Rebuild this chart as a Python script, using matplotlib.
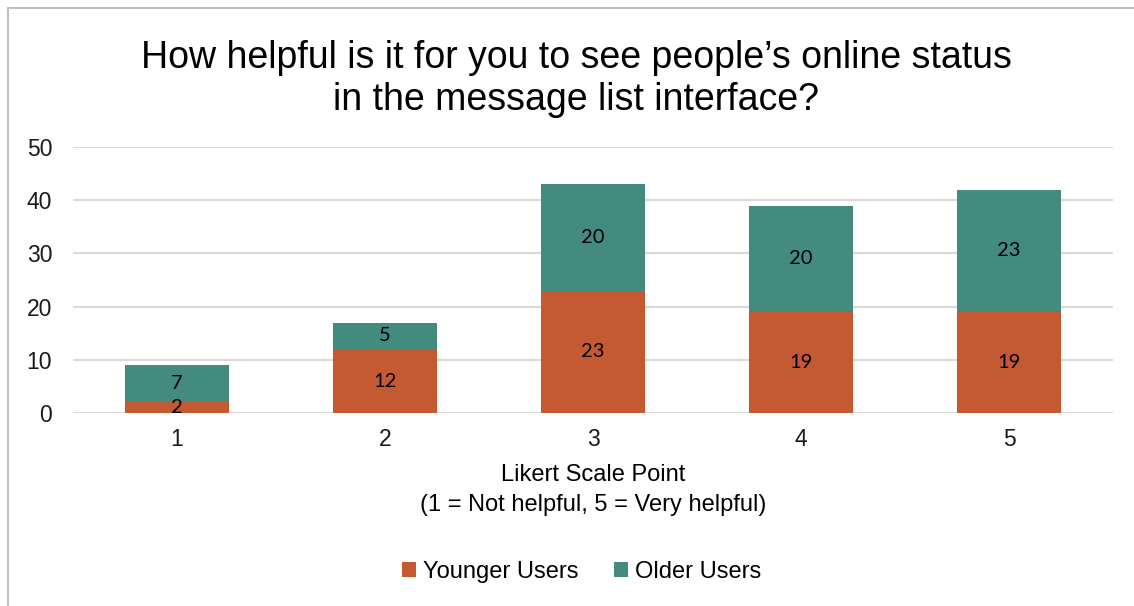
import numpy as np
import matplotlib
matplotlib.use("Agg")
import matplotlib.pyplot as plt
from matplotlib.lines import Line2D

plt.rcParams['font.family'] = ['Liberation Sans', 'DejaVu Sans']

# data
likert_points = ["1", "2", "3", "4", "5"]
younger_users = [2, 12, 23, 19, 19]
older_users = [7, 5, 20, 20, 23]

col_young = '#C55A32'
col_old = '#448B7F'
grid_col = '#D9D9D9'

fig = plt.figure(figsize=(11.34, 6.06), dpi=100)
ax = fig.add_axes([73 / 1134, 1 - 413 / 606, 1040 / 1134, 266 / 606])

x = np.arange(1, len(likert_points) + 1)
b1 = ax.bar(x, younger_users, width=0.5, color=col_young, label="Younger Users", zorder=3)
b2 = ax.bar(x, older_users, width=0.5, bottom=younger_users, color=col_old, label="Older Users", zorder=3)
ax.bar_label(b1, label_type='center', fontsize=14.5, color='black', family=['Lato', 'DejaVu Sans'])
ax.bar_label(b2, label_type='center', fontsize=14.5, color='black', family=['Lato', 'DejaVu Sans'])

ax.set_xlim(0.5, len(likert_points) + 0.5)
ax.set_ylim(0, 50)
ax.set_yticks(range(0, 51, 10))
ax.set_xticks(x)
ax.set_xticklabels(likert_points)
ax.tick_params(axis='both', length=0, labelsize=16.5, colors='#1a1a1a')
ax.tick_params(axis='x', pad=11)
ax.tick_params(axis='y', pad=15)
ax.grid(axis='y', color=grid_col, linewidth=1.5, zorder=0)
for s in ax.spines.values():
    s.set_visible(False)

ax.set_xlabel("Likert Scale Point\n(1 = Not helpful, 5 = Very helpful)", fontsize=17,
              labelpad=9, linespacing=1.5)

fig.text(0.508, 0.869, "How helpful is it for you to see people\u2019s online status\nin the message list interface?",
         ha='center', va='center', fontsize=27, linespacing=1.22)

fig.legend(loc='center', bbox_to_anchor=(0.513, 0.056), ncol=2, frameon=False, fontsize=17,
           handlelength=0.6, handleheight=0.6, handletextpad=0.3, columnspacing=1.5)

# chart border (cropped at right/bottom)
fig.add_artist(Line2D([8 / 1134, 8 / 1134], [0, 1 - 8 / 606], color='#BFBFBF', linewidth=1.5))
fig.add_artist(Line2D([8 / 1134, 1], [1 - 8 / 606, 1 - 8 / 606], color='#BFBFBF', linewidth=1.5))

fig.savefig("out.png", dpi=100)
